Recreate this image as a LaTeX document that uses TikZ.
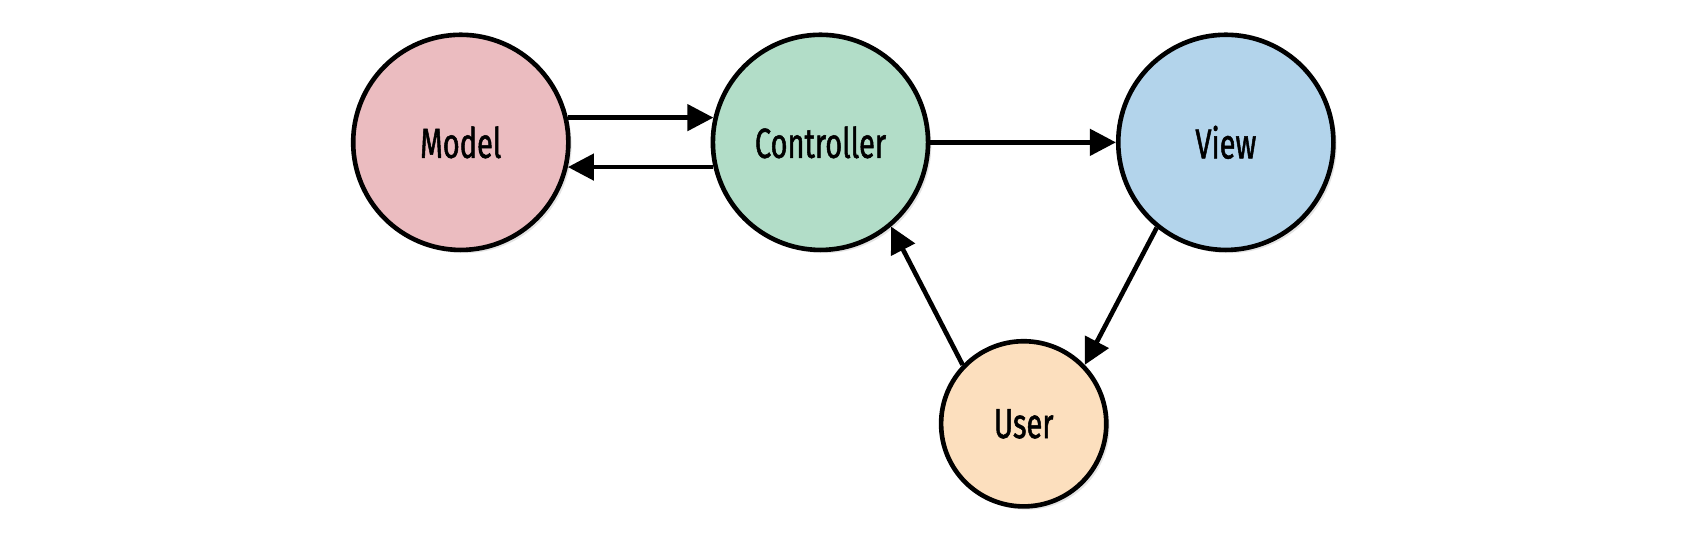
\documentclass[tikz,border=0pt]{standalone}
\usepackage{fontspec}
\newfontfamily\mvcfont[FakeStretch=0.69,FakeBold=1.2]{Fira Sans}
\usetikzlibrary{arrows.meta, shadows}

\definecolor{modelpink}{HTML}{EBBCC0}
\definecolor{ctrlgreen}{HTML}{B2DDC8}
\definecolor{viewblue}{HTML}{B3D4EB}
\definecolor{userpeach}{HTML}{FCDFBE}

\begin{document}
\begin{tikzpicture}[-{Triangle[length=0.48cm,width=0.48cm]},line width=0.085cm,
                    node distance=6.62cm]
  \tikzstyle{every node}=[font=\mvcfont\fontsize{22}{26}\selectfont]
  \tikzstyle{part}=[circle,draw=black,line width=0.085cm,minimum size=3.96cm,
                    drop shadow={opacity=0.22,shadow xshift=0.06cm,shadow yshift=-0.06cm}]

  \useasboundingbox (-8.48,2.62) rectangle (22.88,-7.58);

  \node[part, fill=modelpink]  (model)                           {Model};
  \node[part, fill=ctrlgreen]  (ctrl)  [right of=model]          {Controller};
  \node[part, fill=viewblue]   (view)  [right of=ctrl, xshift=0.84cm] {View};
  \node[part, fill=userpeach, minimum size=3.04cm] (user) at (10.36,-5.18) {User};

  \draw (model.13) -- (ctrl.167);
  \draw (ctrl.193) -- (model.347);
  \draw (ctrl) -- (view);
  \draw (view.231) -- (user.44);
  \draw (user.136) -- (ctrl.310);
\end{tikzpicture}
\end{document}
